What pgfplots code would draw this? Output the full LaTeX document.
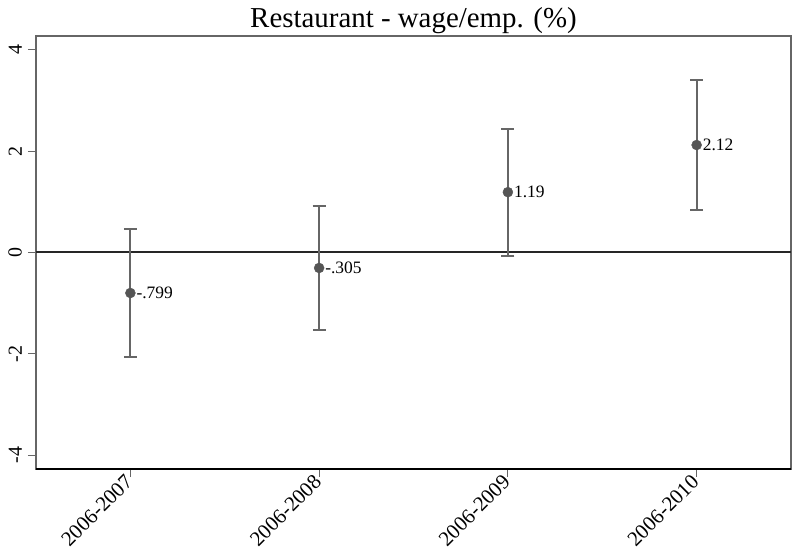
\documentclass[border=0pt]{standalone}
\usepackage{graphicx}
\usepackage{pgfplots}
\pgfplotsset{compat=1.18}
\usepackage{pgfplotstable}
\usepackage{fontspec}
\setmainfont{Liberation Serif}
\definecolor{pt}{HTML}{555555}
\definecolor{eb}{HTML}{666666}
\pgfplotstableread{
x y e lab
1 -0.799 1.26 -.799
2 -0.305 1.23 -.305
3 1.19 1.25 1.19
4 2.12 1.28 2.12
}\datatable
\begin{document}
\begin{tikzpicture}
\useasboundingbox (-36bp,-84bp) rectangle (756bp,469bp);
\begin{axis}[
 scale only axis, width=755bp, height=433bp,
 at={(0,0)}, anchor=south west,
 xmin=0.5, xmax=4.5, ymin=-4.27, ymax=4.27,
 xtick={1,2,3,4}, xticklabels={2006-2007,2006-2008,2006-2009,2006-2010},
 ytick={-4,-2,0,2,4},
 yticklabels={\rotatebox{90}{-4},\rotatebox{90}{-2},\rotatebox{90}{0},\rotatebox{90}{2},\rotatebox{90}{4}},
 xtick pos=bottom, ytick pos=left, tick align=outside,
 major tick length=8bp,
 tick style={color=black!60, line width=1bp},
 axis line style={color=black!60, line width=1.1bp},
 x tick label style={rotate=45, anchor=east, font=\fontsize{21}{22}\selectfont, inner sep=2bp},
 y tick label style={anchor=east, font=\fontsize{20}{22}\selectfont, inner sep=2bp, xshift=-4bp},
 extra y ticks={0}, extra y tick labels={},
 extra y tick style={grid=major, major grid style={color=black!85, line width=2bp}, tick style={draw=none}},
 title={Restaurant - wage/emp. (\%)},
 title style={font=\fontsize{29}{32}\selectfont, at={(0.5,1)}, anchor=base, yshift=3bp},
 clip=false,
]
\addplot[only marks, mark=*, mark size=5bp, color=pt,
  point meta=explicit symbolic,
  nodes near coords,
  nodes near coords style={anchor=west, font=\fontsize{17.5}{18}\selectfont, color=black, xshift=5bp, inner sep=1bp},
  error bars/.cd, y dir=both, y explicit,
  error bar style={color=eb, line width=2bp},
  error mark options={rotate=90, color=eb, line width=2bp, mark size=6.5bp}]
  table[x=x, y=y, y error=e, meta=lab] {\datatable};
\end{axis}
\draw[black, line width=1.8bp] (0,0) -- (755bp,0);
\end{tikzpicture}
\end{document}
